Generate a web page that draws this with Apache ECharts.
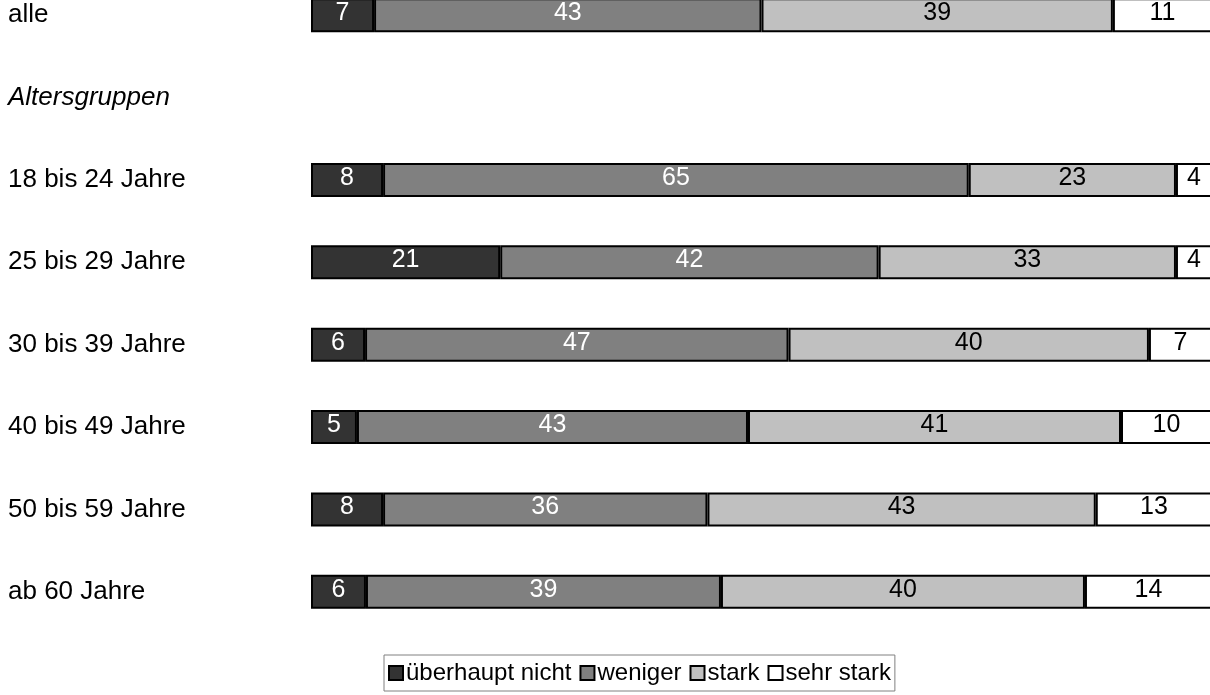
<!DOCTYPE html>
<html>
<head>
<meta charset="utf-8">
<script src="https://cdn.jsdelivr.net/npm/echarts@6/dist/echarts.min.js"></script>
<style>
  html, body { margin: 0; padding: 0; background: #ffffff; }
  #container { width: 1210px; height: 695px; }
</style>
</head>
<body>
<div id="container"></div>
<script type="text/javascript">
    // rows, top to bottom; "Altersgruppen" is only a heading, no bar
    var categories = ['alle', 'Altersgruppen', '18 bis 24 Jahre', '25 bis 29 Jahre', '30 bis 39 Jahre',
                      '40 bis 49 Jahre', '50 bis 59 Jahre', 'ab 60 Jahre'];
    var seriesNames = ['überhaupt nicht', 'weniger', 'stark', 'sehr stark'];

    // percent shares (labels are rounded)
    var ueberhauptNicht = [7, null, 8, 21, 6, 5.1, 8, 6.1];
    var weniger        = [43, null, 65, 42, 47, 43.4, 36, 39.4];
    var stark          = [39, null, 23, 33, 40, 41.4, 43.1, 40.4];
    var sehrStark      = [11, null, 4, 4, 7, 10.1, 12.9, 14.1];

    var fills = ['#333333', '#808080', '#c0c0c0', '#ffffff'];
    var labelColors = ['#ffffff', '#ffffff', '#000000', '#000000'];
    var font = 'Liberation Sans, Arial, sans-serif';

    var dom = document.getElementById("container");
    var myChart = echarts.init(dom);

    function makeSeries(idx, values) {
        return {
            name: seriesNames[idx],
            type: 'bar',
            stack: 'total',
            barWidth: 34,
            data: values,
            itemStyle: {
                color: fills[idx],
                borderColor: '#000000',
                borderWidth: 2
            },
            label: {
                show: true,
                position: 'inside',
                offset: [0, -2],
                color: labelColors[idx],
                fontFamily: font,
                fontSize: 25,
                formatter: function (p) { return Math.round(p.value); }
            }
        };
    }

    var option = {
        animation: false,
        textStyle: { fontFamily: font },
        grid: {
            left: 311,
            width: 901,
            top: -26,
            height: 659,
            outerBoundsMode: 'none'
        },
        legend: {
            data: seriesNames,
            left: 384,
            top: 655,
            itemWidth: 14,
            itemHeight: 14,
            itemGap: 8,
            padding: [6, 4, 6, 4],
            borderColor: '#808080',
            borderWidth: 1,
            icon: 'rect',
            textStyle: { fontFamily: font, fontSize: 24, color: '#000000', padding: [0, 0, 0, -2] }
        },
        xAxis: {
            type: 'value',
            min: 0,
            max: 100,
            show: false
        },
        yAxis: {
            type: 'category',
            inverse: true,
            data: categories,
            axisLine: { show: false },
            axisTick: { show: false },
            axisLabel: {
                align: 'left',
                margin: 303,
                fontFamily: font,
                fontSize: 26,
                color: '#000000',
                formatter: function (v) {
                    return v === 'Altersgruppen' ? '{i|' + v + '}' : v;
                },
                rich: {
                    i: { fontStyle: 'italic', fontFamily: font, fontSize: 26, color: '#000000' }
                }
            }
        },
        series: [
            makeSeries(0, ueberhauptNicht),
            makeSeries(1, weniger),
            makeSeries(2, stark),
            makeSeries(3, sehrStark)
        ]
    };

    if (option && typeof option === "object") {
        myChart.setOption(option, true);
    }
</script>
</body>
</html>
